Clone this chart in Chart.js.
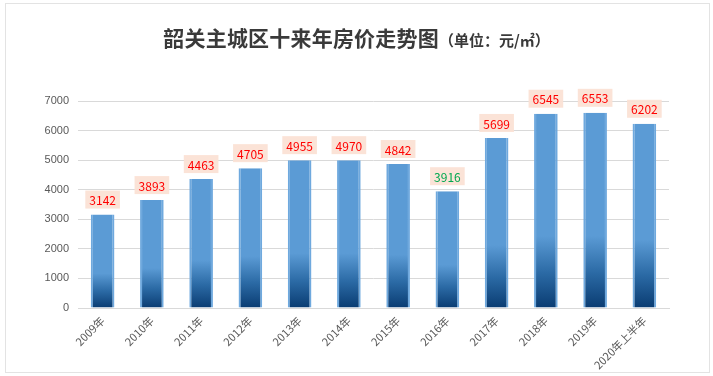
<!DOCTYPE html>
<html>
<head>
<meta charset="utf-8">
<script src="https://cdn.jsdelivr.net/npm/chart.js@4/dist/chart.umd.min.js"></script>
<style>
  html, body { margin:0; padding:0; background:#fff; }
  body { width:713px; height:376px; position:relative; overflow:hidden; font-family:"Noto Sans CJK SC", sans-serif; }
  #frame { position:absolute; left:5px; top:3px; width:705px; height:370px; border:1px solid #e3e3e3; box-sizing:border-box; }
  #title { position:absolute; left:0; top:23px; width:713px; text-align:center; color:#3a3a3a; font-weight:bold; white-space:nowrap; line-height:28px; }
  #title .main { font-size:21px; letter-spacing:0.2px; }
  #title .unit { font-size:15px; }
  #wrap { position:absolute; left:0; top:0; width:713px; height:376px; }
</style>
</head>
<body>
<div id="frame"></div>
<div id="wrap"><canvas id="c" width="713" height="376"></canvas></div>
<div id="title"><span class="main">韶关主城区十来年房价走势图</span><span class="unit">（单位：元/㎡）</span></div>
<script>
const categories = ["2009年","2010年","2011年","2012年","2013年","2014年","2015年","2016年","2017年","2018年","2019年","2020年上半年"];
// bar heights as drawn in the picture
const barValues = [3160, 3650, 4360, 4730, 5000, 5000, 4870, 3950, 5750, 6570, 6600, 6230];
// value labels printed above the bars
const labelValues = [3142, 3893, 4463, 4705, 4955, 4970, 4842, 3916, 5699, 6545, 6553, 6202];
const labelColors = ["#ff0000","#ff0000","#ff0000","#ff0000","#ff0000","#ff0000","#ff0000","#00a84f","#ff0000","#ff0000","#ff0000","#ff0000"];
const yTicks = [0,1000,2000,3000,4000,5000,6000,7000];

function barFill(ctx) {
  const chart = ctx.chart;
  const area = chart.chartArea;
  if (!area || ctx.type !== 'data') return '#5b9bd5';
  const y = chart.scales.y;
  const v = ctx.raw;
  const top = y.getPixelForValue(v);
  const base = y.getPixelForValue(0);
  const g = chart.ctx.createLinearGradient(0, top, 0, base);
  g.addColorStop(0, '#5b9bd5');
  g.addColorStop(0.63, '#5b9bd5');
  g.addColorStop(0.82, '#2b6aa5');
  g.addColorStop(1, '#0a3c72');
  return g;
}

const labelPlugin = {
  id: 'valueLabels',
  afterDatasetsDraw(chart) {
    const c = chart.ctx;
    const meta = chart.getDatasetMeta(0);
    c.save();
    c.font = '12px "Noto Sans CJK SC", sans-serif';
    c.textAlign = 'center';
    c.textBaseline = 'middle';
    meta.data.forEach((bar, i) => {
      const txt = String(labelValues[i]);
      const cx = bar.x;
      const cy = bar.y - 15;
      const w = c.measureText(txt).width + 8;
      const h = 18;
      c.fillStyle = 'rgba(251,226,213,0.95)';
      c.fillRect(cx - w/2, cy - h/2, w, h);
      c.fillStyle = labelColors[i];
      c.fillText(txt, cx, cy + 1);
    });
    c.restore();
  }
};

new Chart(document.getElementById('c'), {
  type: 'bar',
  data: {
    labels: categories,
    datasets: [{
      data: barValues,
      backgroundColor: barFill,
      borderColor: '#6fa9de',
      borderWidth: {left:2, right:2, top:0, bottom:0},
      borderSkipped: false,
      barPercentage: 0.48,
      categoryPercentage: 1.0
    }]
  },
  options: {
    responsive: false,
    animation: false,
    devicePixelRatio: 1,
    layout: { padding: { top: 101, left: 10, right: 44, bottom: 0 } },
    plugins: { legend: { display: false }, tooltip: { enabled: false }, title: { display: false } },
    scales: {
      x: {
        grid: { display: false, drawTicks: false },
        border: { display: true, color: '#d9d9d9' },
        ticks: {
          autoSkip: false, maxRotation: 45, minRotation: 45, padding: 6,
          color: '#595959', font: { size: 11, family: '"Noto Sans CJK SC", sans-serif' }
        },
        afterFit(s) { s.height = 68; }
      },
      y: {
        min: 0, max: 7000,
        afterBuildTicks(s) { s.ticks = yTicks.map(v => ({ value: v })); },
        grid: { color: '#d9d9d9', drawTicks: false },
        border: { display: false },
        ticks: {
          padding: 9, color: '#595959',
          font: { size: 11, family: '"Liberation Sans", sans-serif' },
          callback: (v) => String(v)
        },
        afterFit(s) { s.width = 68; }
      }
    }
  },
  plugins: [labelPlugin]
});
</script>
</body>
</html>
